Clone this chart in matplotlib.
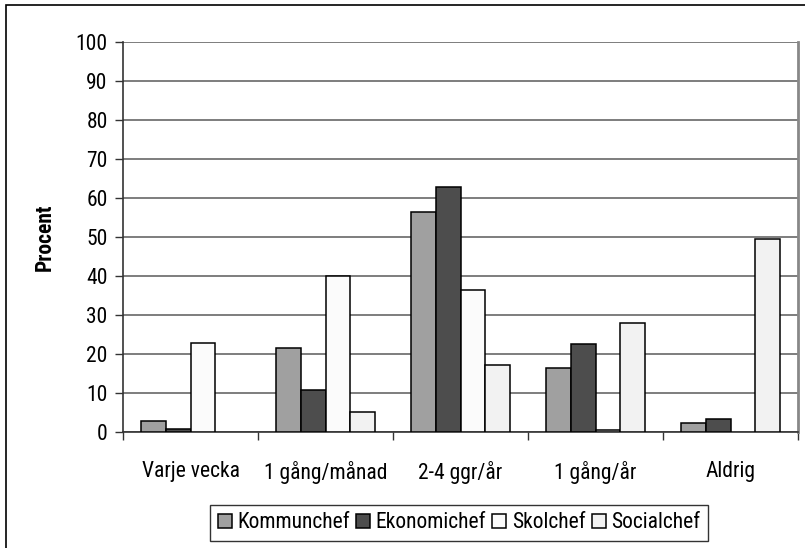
import numpy as np
import matplotlib
matplotlib.use('Agg')
import matplotlib.pyplot as plt
from matplotlib import font_manager
from matplotlib.patches import Rectangle, Patch

# pick a narrow sans face if one is installed
installed = {f.name for f in font_manager.fontManager.ttflist}
for cand in ['Liberation Sans Narrow', 'Roboto Condensed', 'Open Sans Condensed',
             'DejaVu Sans Condensed']:
    if cand in installed:
        plt.rcParams['font.family'] = [cand, 'DejaVu Sans']
        break
else:
    plt.rcParams['font.family'] = ['DejaVu Sans']
    plt.rcParams['font.stretch'] = 'condensed'

categories = ['Varje vecka', '1 gång/månad', '2-4 ggr/år', '1 gång/år', 'Aldrig']
series_names = ['Kommunchef', 'Ekonomichef', 'Skolchef', 'Socialchef']
kommunchef = [2.8, 21.6, 56.4, 16.4, 2.3]
ekonomichef = [0.8, 10.8, 62.8, 22.5, 3.3]
skolchef = [22.9, 40.0, 36.4, 0.4, 0.0]
socialchef = [0.0, 5.2, 17.2, 27.9, 49.6]
series_values = [kommunchef, ekonomichef, skolchef, socialchef]
series_colors = ['#a0a0a0', '#4d4d4d', '#fbfbfb', '#f2f2f2']

fs = 15.5

fig = plt.figure(figsize=(8.05, 5.48), dpi=100)
ax = fig.add_axes([123 / 805, 1 - 432 / 548, (798 - 123) / 805, (432 - 42) / 548])

# outer chart frame (runs off the right/bottom edge)
fig.add_artist(Rectangle((6 / 805, -0.2), 1.2, (548 - 5) / 548 + 0.2,
                         transform=fig.transFigure, fill=False,
                         edgecolor='black', linewidth=1.2))

x = np.arange(len(categories))
bar_w = 1 / 5.5
offsets = (np.arange(4) - 1.5) * bar_w
for vals, col, off in zip(series_values, series_colors, offsets):
    vals = np.asarray(vals)
    bars = ax.bar(x + off, vals, width=bar_w, color=col, edgecolor='black',
                  linewidth=1.1, zorder=3)
    for b, v in zip(bars, vals):
        if v == 0:
            b.set_visible(False)

ax.set_xlim(-0.5, len(categories) - 0.5)
ax.set_ylim(0, 100)
ax.set_yticks(np.arange(0, 101, 10))
ax.yaxis.grid(True, color='#5a5a5a', linewidth=1.1, zorder=0)
ax.set_axisbelow(True)

ax.set_xticks(x)
ax.set_xticklabels(categories, fontsize=fs)
ax.set_xticks(np.arange(-0.5, len(categories)), minor=True)
ax.tick_params(axis='x', which='major', length=0, pad=21)
ax.tick_params(axis='x', which='minor', length=6, width=1, color='#333333')
ax.tick_params(axis='y', length=6, width=1, pad=5, labelsize=fs, color='#333333')

ax.spines['top'].set_visible(False)
ax.spines['right'].set_color('#888888')
ax.spines['right'].set_linewidth(2)
ax.spines['left'].set_color('#333333')
ax.spines['left'].set_linewidth(1.2)
ax.spines['bottom'].set_color('#333333')
ax.spines['bottom'].set_linewidth(1.2)

ax.set_ylabel('Procent', fontsize=fs, fontweight='bold', labelpad=14)

handles = [Patch(facecolor=c, edgecolor='black', linewidth=1.1) for c in series_colors]
leg = fig.legend(handles, series_names, loc='center',
                 bbox_to_anchor=(459 / 805, 1 - 523 / 548), ncol=4,
                 fontsize=fs, frameon=True, fancybox=False, edgecolor='black',
                 handlelength=0.65, handleheight=0.65, handletextpad=0.25,
                 columnspacing=0.3, borderpad=0.35, borderaxespad=0)
leg.get_frame().set_linewidth(1.0)

fig.savefig('out.png', dpi=100)
